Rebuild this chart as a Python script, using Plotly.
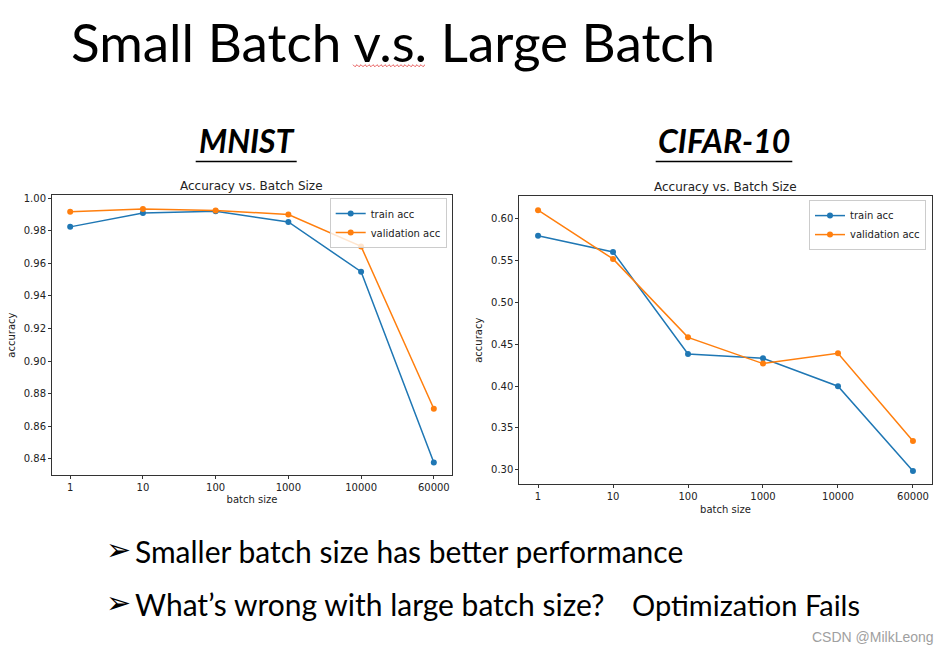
import plotly.graph_objects as go

W, H = 950, 653

batch_sizes = ["1", "10", "100", "1000", "10000", "60000"]

mnist_train = [0.9823, 0.9908, 0.9919, 0.9853, 0.9548, 0.8377]
mnist_val = [0.9916, 0.9933, 0.9924, 0.9899, 0.9703, 0.8707]

cifar_train = [0.5797, 0.5603, 0.4383, 0.4331, 0.3998, 0.2984]
cifar_val = [0.6103, 0.5520, 0.4582, 0.4268, 0.4391, 0.3342]

BLUE = "#1f77b4"
ORANGE = "#ff7f0e"
TXT = "#222222"
MPL_FONT = "DejaVu Sans"
SLIDE_FONT = "Lato"


def px(x):
    return x / W


def py(y):
    return 1 - y / H


fig = go.Figure()

for name, vals, color, xa, ya, lg in [
    ("train acc", mnist_train, BLUE, "x", "y", "legend"),
    ("validation acc", mnist_val, ORANGE, "x", "y", "legend"),
    ("train acc", cifar_train, BLUE, "x2", "y2", "legend2"),
    ("validation acc", cifar_val, ORANGE, "x2", "y2", "legend2"),
]:
    fig.add_trace(go.Scatter(
        x=batch_sizes, y=vals, name=name, mode="lines+markers",
        line=dict(color=color, width=1.5),
        marker=dict(color=color, size=6),
        xaxis=xa, yaxis=ya, legend=lg,
    ))

axis_common = dict(
    showline=True, mirror=True, linecolor="#333333", linewidth=1,
    ticks="outside", ticklen=3, tickwidth=1, tickcolor="#333333",
    showgrid=False, zeroline=False,
    tickfont=dict(family=MPL_FONT, size=10, color=TXT),
)

xaxis_common = dict(axis_common, type="category", range=[-0.25, 5.25],
                    title=dict(text="batch size", standoff=4,
                               font=dict(family=MPL_FONT, size=10, color=TXT)))
yaxis_common = dict(axis_common, tickformat=".2f",
                    title=dict(text="accuracy", standoff=6,
                               font=dict(family=MPL_FONT, size=10, color=TXT)))

legend_common = dict(
    bgcolor="rgba(255,255,255,0.8)", bordercolor="#cccccc", borderwidth=1,
    font=dict(family=MPL_FONT, size=10, color=TXT),
    xanchor="right", yanchor="top", itemwidth=30, tracegroupgap=0,
)

fig.update_layout(
    width=W, height=H,
    margin=dict(l=0, r=0, t=0, b=0),
    paper_bgcolor="white", plot_bgcolor="white",
    xaxis=dict(xaxis_common, domain=[px(52), px(452)], anchor="y"),
    yaxis=dict(yaxis_common, domain=[py(474), py(193.3)], anchor="x",
               range=[0.8302, 1.0016], dtick=0.02, tick0=0.84),
    xaxis2=dict(xaxis_common, domain=[px(519.3), px(931.7)], anchor="y2"),
    yaxis2=dict(yaxis_common, domain=[py(483.3), py(194.3)], anchor="x2",
                range=[0.2827, 0.6268], dtick=0.05, tick0=0.30),
    legend=dict(legend_common, x=px(446.7), y=py(196)),
    legend2=dict(legend_common, x=px(926), y=py(198)),
    showlegend=True,
)

annotations = [
    # subplot titles
    dict(text="Accuracy vs. Batch Size", x=px(251.7), y=py(184), xanchor="center", yanchor="middle",
         font=dict(family=MPL_FONT, size=12, color=TXT)),
    dict(text="Accuracy vs. Batch Size", x=px(725), y=py(184.5), xanchor="center", yanchor="middle",
         font=dict(family=MPL_FONT, size=12, color=TXT)),
    # slide title
    dict(text="Small Batch v.s. Large Batch", x=px(69), y=py(39), xanchor="left", yanchor="middle",
         font=dict(family=SLIDE_FONT, size=53, color="black")),
    # dataset headers
    dict(text="<b><i>MNIST</i></b>", x=px(246.5), y=py(138), xanchor="center", yanchor="middle",
         font=dict(family=SLIDE_FONT, size=32, color="black")),
    dict(text="<b><i>CIFAR-10</i></b>", x=px(724), y=py(138), xanchor="center", yanchor="middle",
         font=dict(family=SLIDE_FONT, size=32, color="black")),
    # bullets
    dict(text="➢", x=px(104), y=py(549), xanchor="left", yanchor="middle",
         font=dict(family="DejaVu Sans", size=30, color="black")),
    dict(text="Smaller batch size has better performance", x=px(133), y=py(551), xanchor="left",
         yanchor="middle", font=dict(family=SLIDE_FONT, size=30, color="black")),
    dict(text="➢", x=px(104), y=py(602), xanchor="left", yanchor="middle",
         font=dict(family="DejaVu Sans", size=30, color="black")),
    dict(text="What’s wrong with large batch size?", x=px(133), y=py(604), xanchor="left",
         yanchor="middle", font=dict(family=SLIDE_FONT, size=30, color="black")),
    dict(text="Optimization Fails", x=px(630), y=py(604), xanchor="left",
         yanchor="middle", font=dict(family=SLIDE_FONT, size=29, color="black")),
    # watermark
    dict(text="CSDN @MilkLeong", x=px(936), y=py(637), xanchor="right", yanchor="middle",
         font=dict(family="Liberation Sans", size=14, color="#a0a0a0")),
]
for a in annotations:
    a.update(xref="paper", yref="paper", showarrow=False)
fig.update_layout(annotations=annotations)

# header underlines
shapes = [
    dict(type="line", xref="paper", yref="paper", x0=px(195.7), x1=px(296.7), y0=py(159.3), y1=py(159.3),
         line=dict(color="black", width=1.5)),
    dict(type="line", xref="paper", yref="paper", x0=px(655.7), x1=px(792.3), y0=py(159.3), y1=py(159.3),
         line=dict(color="black", width=1.5)),
]
# red spell-check squiggle under "v.s."
sx0, sx1, sy = 353, 425, 63
pts = []
x = sx0
i = 0
while x <= sx1:
    pts.append((x, sy + (1 if i % 2 else -1)))
    x += 2
    i += 1
path = "M " + " L ".join(f"{px(a):.5f},{py(b):.5f}" for a, b in pts)
shapes.append(dict(type="path", xref="paper", yref="paper", path=path,
                   line=dict(color="#e03030", width=0.8)))
fig.update_layout(shapes=shapes)

fig.write_html(
    "out.html",
    config={"displayModeBar": False},
    post_script="document.body.style.margin='0';document.body.style.overflow='hidden';",
)
